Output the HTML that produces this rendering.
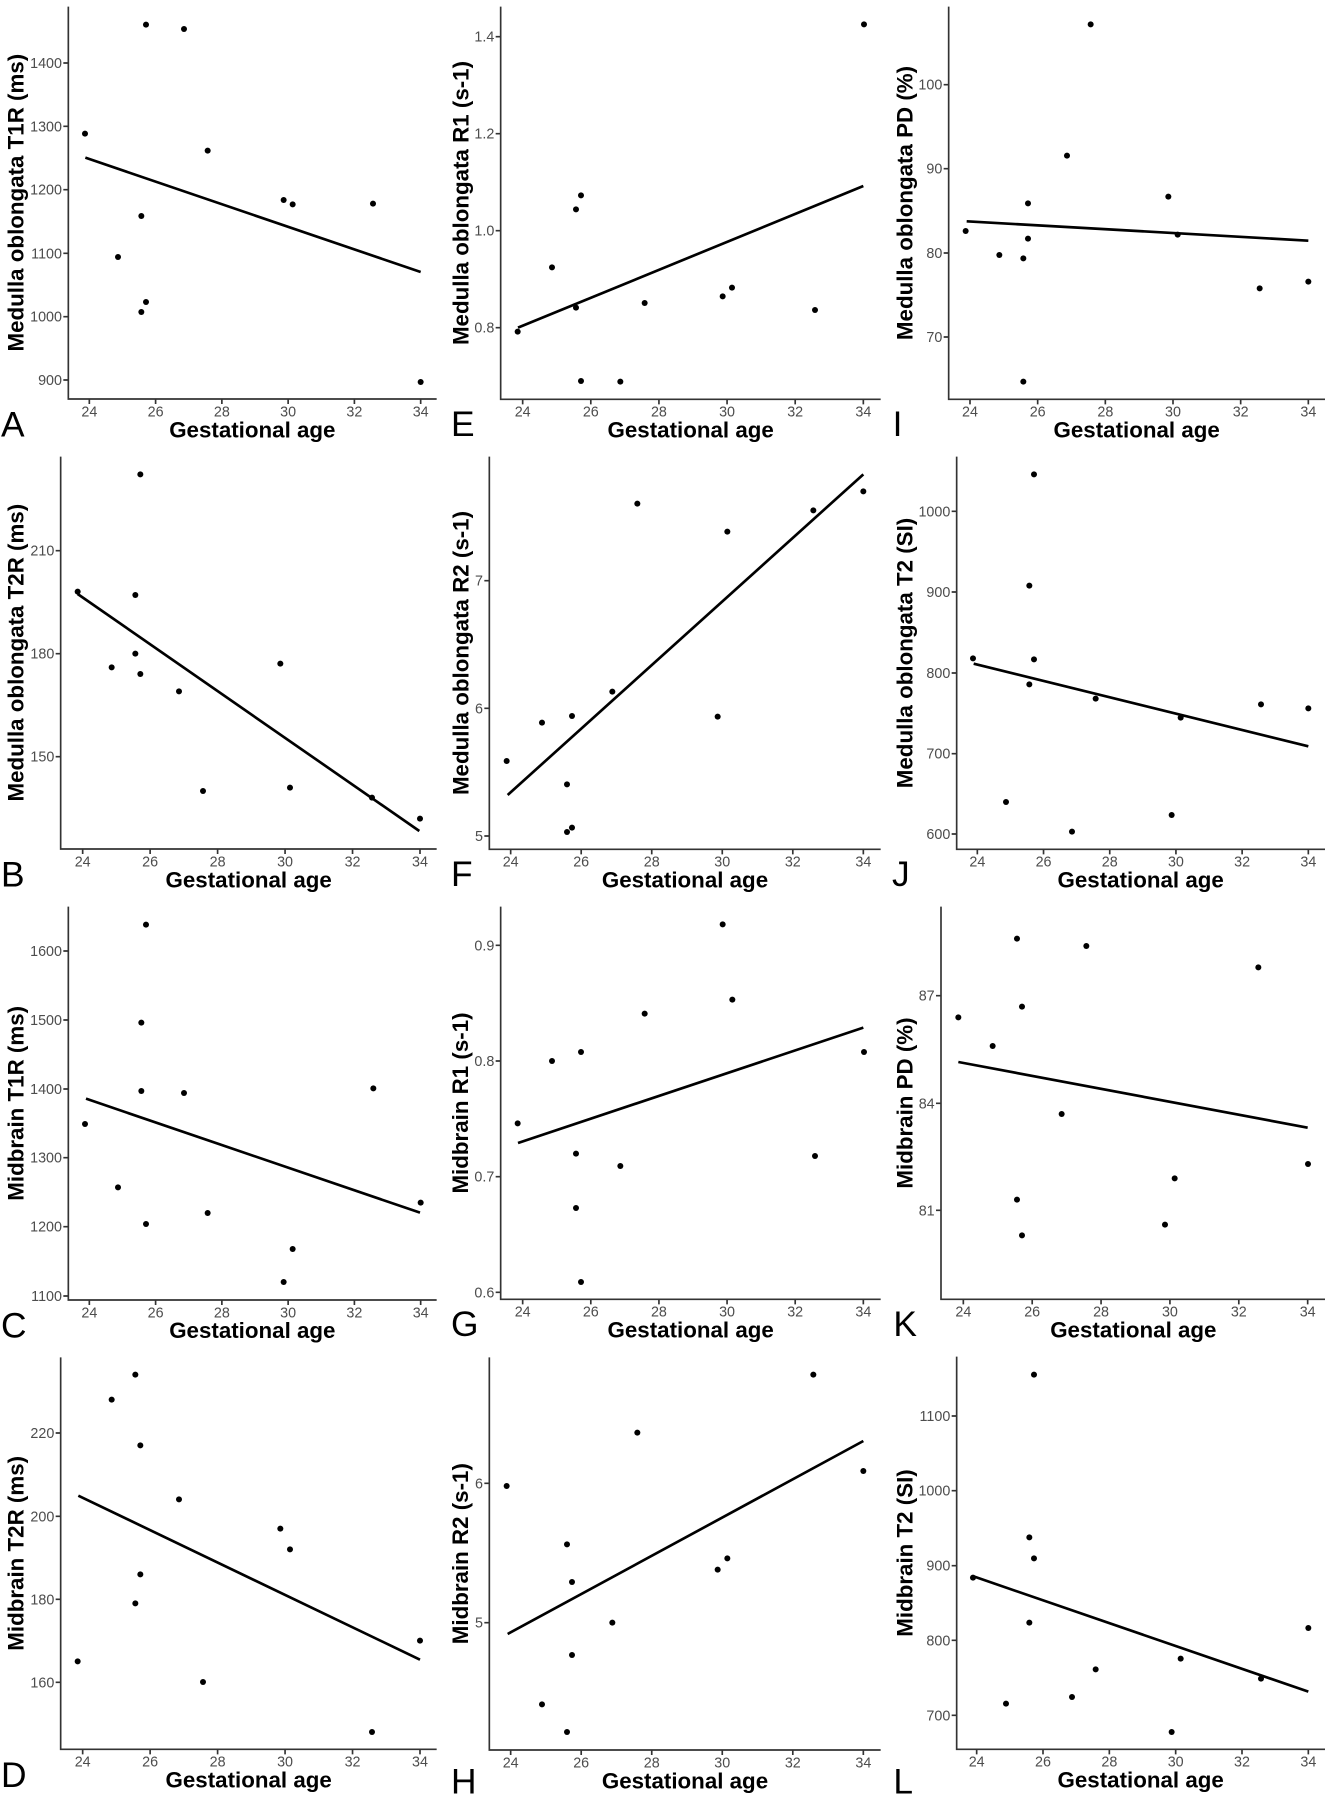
<!DOCTYPE html>
<html><head><meta charset="utf-8"><style>
html,body{margin:0;padding:0;background:#fff}
svg{display:block}
.ax{stroke:#333;stroke-width:5;fill:none}
.tk{fill:#4d4d4d;font-family:"Liberation Sans",Arial,sans-serif;font-size:43px}
.xt{text-anchor:middle}
.yt{text-anchor:end}
.tt{fill:#000;font-family:"Liberation Sans",Arial,sans-serif;font-size:67px;font-weight:bold;text-anchor:middle}
.lt{fill:#000;font-family:"Liberation Sans",Arial,sans-serif;font-size:106px}
.ln{stroke:#000;stroke-width:8;fill:none}
circle{fill:#000;r:9px}
</style></head><body>
<svg width="1329" height="1800" viewBox="0 0 1329 1800" xmlns="http://www.w3.org/2000/svg">
<rect width="1329" height="1800" fill="#fff"/>

<!-- A -->
<g transform="translate(0,0) scale(0.333333)">
<path class="ax" d="M205,20V1197H1310"/>
<path class="ax" d="M190,189H205M190,379H205M190,569H205M190,760H205M190,950H205M190,1140H205M268,1197V1212M466.8,1197V1212M665.6,1197V1212M864.4,1197V1212M1063.2,1197V1212M1262,1197V1212"/>
<text class="tk yt" x="186" y="204">1400</text><text class="tk yt" x="186" y="394">1300</text><text class="tk yt" x="186" y="584">1200</text><text class="tk yt" x="186" y="775">1100</text><text class="tk yt" x="186" y="965">1000</text><text class="tk yt" x="186" y="1155">900</text>
<text class="tk xt" x="268" y="1249">24</text><text class="tk xt" x="466.8" y="1249">26</text><text class="tk xt" x="665.6" y="1249">28</text><text class="tk xt" x="864.4" y="1249">30</text><text class="tk xt" x="1063.2" y="1249">32</text><text class="tk xt" x="1262" y="1249">34</text>
<line class="ln" x1="256" y1="473" x2="1262" y2="816"/>
<circle cx="255" cy="401" r="9"/><circle cx="438" cy="74" r="9"/><circle cx="552" cy="87" r="9"/><circle cx="623" cy="452" r="9"/><circle cx="354" cy="771" r="9"/><circle cx="424" cy="648" r="9"/><circle cx="424" cy="936" r="9"/><circle cx="438" cy="906" r="9"/><circle cx="851" cy="600" r="9"/><circle cx="878" cy="613" r="9"/><circle cx="1119" cy="611" r="9"/><circle cx="1262" cy="1146" r="9"/>
<text class="tt" x="757" y="1312">Gestational age</text>
<text class="tt" transform="translate(71,608) rotate(-90)">Medulla oblongata T1R (ms)</text>
<text class="lt" x="3" y="1310">A</text>
</g>

<!-- E -->
<g transform="translate(440,0) scale(0.333333)">
<path class="ax" d="M182,20V1198H1322"/>
<path class="ax" d="M167,110H182M167,401H182M167,692H182M167,983H182M248,1198V1213M452.4,1198V1213M656.8,1198V1213M861.2,1198V1213M1065.6,1198V1213M1270,1198V1213"/>
<text class="tk yt" x="163" y="125">1.4</text><text class="tk yt" x="163" y="416">1.2</text><text class="tk yt" x="163" y="707">1.0</text><text class="tk yt" x="163" y="998">0.8</text>
<text class="tk xt" x="248" y="1250">24</text><text class="tk xt" x="452.4" y="1250">26</text><text class="tk xt" x="656.8" y="1250">28</text><text class="tk xt" x="861.2" y="1250">30</text><text class="tk xt" x="1065.6" y="1250">32</text><text class="tk xt" x="1270" y="1250">34</text>
<line class="ln" x1="234" y1="983" x2="1270" y2="558"/>
<circle cx="233" cy="995" r="9"/><circle cx="336" cy="802" r="9"/><circle cx="408" cy="628" r="9"/><circle cx="423" cy="586" r="9"/><circle cx="408" cy="923" r="9"/><circle cx="423" cy="1143" r="9"/><circle cx="541" cy="1145" r="9"/><circle cx="614" cy="909" r="9"/><circle cx="848" cy="889" r="9"/><circle cx="876" cy="863" r="9"/><circle cx="1125" cy="930" r="9"/><circle cx="1272" cy="73" r="9"/>
<text class="tt" x="752" y="1313">Gestational age</text>
<text class="tt" transform="translate(86,609) rotate(-90)">Medulla oblongata R1 (s-1)</text>
<text class="lt" x="33" y="1308">E</text>
</g>

<!-- I -->
<g transform="translate(880,0) scale(0.333333)">
<path class="ax" d="M206,20V1198H1335"/>
<path class="ax" d="M191,254H206M191,506H206M191,759H206M191,1011H206M270,1198V1213M473,1198V1213M676,1198V1213M879,1198V1213M1082,1198V1213M1285,1198V1213"/>
<text class="tk yt" x="187" y="269">100</text><text class="tk yt" x="187" y="521">90</text><text class="tk yt" x="187" y="774">80</text><text class="tk yt" x="187" y="1026">70</text>
<text class="tk xt" x="270" y="1250">24</text><text class="tk xt" x="473" y="1250">26</text><text class="tk xt" x="676" y="1250">28</text><text class="tk xt" x="879" y="1250">30</text><text class="tk xt" x="1082" y="1250">32</text><text class="tk xt" x="1285" y="1250">34</text>
<line class="ln" x1="260" y1="664" x2="1285" y2="722"/>
<circle cx="257" cy="693" r="9"/><circle cx="358" cy="765" r="9"/><circle cx="430" cy="775" r="9"/><circle cx="444" cy="610" r="9"/><circle cx="444" cy="716" r="9"/><circle cx="430" cy="1145" r="9"/><circle cx="561" cy="467" r="9"/><circle cx="632" cy="73" r="9"/><circle cx="865" cy="590" r="9"/><circle cx="893" cy="704" r="9"/><circle cx="1139" cy="865" r="9"/><circle cx="1285" cy="845" r="9"/>
<text class="tt" x="770" y="1313">Gestational age</text>
<text class="tt" transform="translate(98,609) rotate(-90)">Medulla oblongata PD (%)</text>
<text class="lt" x="38" y="1308">I</text>
</g>

<!-- B -->
<g transform="translate(0,450) scale(0.333333)">
<path class="ax" d="M182,20V1197H1310"/>
<path class="ax" d="M167,302H182M167,611H182M167,920H182M248,1197V1212M450.4,1197V1212M652.8,1197V1212M855.2,1197V1212M1057.6,1197V1212M1260,1197V1212"/>
<text class="tk yt" x="163" y="317">210</text><text class="tk yt" x="163" y="626">180</text><text class="tk yt" x="163" y="935">150</text>
<text class="tk xt" x="248" y="1249">24</text><text class="tk xt" x="450.4" y="1249">26</text><text class="tk xt" x="652.8" y="1249">28</text><text class="tk xt" x="855.2" y="1249">30</text><text class="tk xt" x="1057.6" y="1249">32</text><text class="tk xt" x="1260" y="1249">34</text>
<line class="ln" x1="233" y1="432" x2="1258" y2="1143"/>
<circle cx="233" cy="425" r="9"/><circle cx="335" cy="652" r="9"/><circle cx="406" cy="435" r="9"/><circle cx="406" cy="611" r="9"/><circle cx="421" cy="672" r="9"/><circle cx="421" cy="73" r="9"/><circle cx="537" cy="724" r="9"/><circle cx="609" cy="1023" r="9"/><circle cx="841" cy="641" r="9"/><circle cx="870" cy="1013" r="9"/><circle cx="1116" cy="1043" r="9"/><circle cx="1260" cy="1106" r="9"/>
<text class="tt" x="746" y="1312">Gestational age</text>
<text class="tt" transform="translate(71,608) rotate(-90)">Medulla oblongata T2R (ms)</text>
<text class="lt" x="3" y="1310">B</text>
</g>

<!-- F -->
<g transform="translate(440,450) scale(0.333333)">
<path class="ax" d="M148,20V1198H1322"/>
<path class="ax" d="M133,392H148M133,775H148M133,1158H148M212,1198V1213M423.6,1198V1213M635.2,1198V1213M846.8,1198V1213M1058.4,1198V1213M1270,1198V1213"/>
<text class="tk yt" x="129" y="407">7</text><text class="tk yt" x="129" y="790">6</text><text class="tk yt" x="129" y="1173">5</text>
<text class="tk xt" x="212" y="1250">24</text><text class="tk xt" x="423.6" y="1250">26</text><text class="tk xt" x="635.2" y="1250">28</text><text class="tk xt" x="846.8" y="1250">30</text><text class="tk xt" x="1058.4" y="1250">32</text><text class="tk xt" x="1270" y="1250">34</text>
<line class="ln" x1="203" y1="1035" x2="1270" y2="73"/>
<circle cx="200" cy="933" r="9"/><circle cx="306" cy="818" r="9"/><circle cx="381" cy="1003" r="9"/><circle cx="381" cy="1146" r="9"/><circle cx="396" cy="1133" r="9"/><circle cx="396" cy="798" r="9"/><circle cx="517" cy="725" r="9"/><circle cx="592" cy="161" r="9"/><circle cx="833" cy="800" r="9"/><circle cx="862" cy="245" r="9"/><circle cx="1120" cy="181" r="9"/><circle cx="1270" cy="124" r="9"/>
<text class="tt" x="735" y="1313">Gestational age</text>
<text class="tt" transform="translate(86,609) rotate(-90)">Medulla oblongata R2 (s-1)</text>
<text class="lt" x="33" y="1308">F</text>
</g>

<!-- J -->
<g transform="translate(880,450) scale(0.333333)">
<path class="ax" d="M230,20V1198H1335"/>
<path class="ax" d="M215,184H230M215,426H230M215,669H230M215,911H230M215,1152H230M292,1198V1213M490.6,1198V1213M689.2,1198V1213M887.8,1198V1213M1086.4,1198V1213M1285,1198V1213"/>
<text class="tk yt" x="211" y="199">1000</text><text class="tk yt" x="211" y="441">900</text><text class="tk yt" x="211" y="684">800</text><text class="tk yt" x="211" y="926">700</text><text class="tk yt" x="211" y="1167">600</text>
<text class="tk xt" x="292" y="1250">24</text><text class="tk xt" x="490.6" y="1250">26</text><text class="tk xt" x="689.2" y="1250">28</text><text class="tk xt" x="887.8" y="1250">30</text><text class="tk xt" x="1086.4" y="1250">32</text><text class="tk xt" x="1285" y="1250">34</text>
<line class="ln" x1="281" y1="641" x2="1285" y2="889"/>
<circle cx="279" cy="625" r="9"/><circle cx="378" cy="1056" r="9"/><circle cx="448" cy="407" r="9"/><circle cx="448" cy="703" r="9"/><circle cx="462" cy="73" r="9"/><circle cx="462" cy="628" r="9"/><circle cx="576" cy="1145" r="9"/><circle cx="647" cy="746" r="9"/><circle cx="875" cy="1095" r="9"/><circle cx="902" cy="803" r="9"/><circle cx="1143" cy="763" r="9"/><circle cx="1285" cy="775" r="9"/>
<text class="tt" x="782" y="1313">Gestational age</text>
<text class="tt" transform="translate(98,609) rotate(-90)">Medulla oblongata T2 (SI)</text>
<text class="lt" x="36" y="1308">J</text>
</g>

<!-- C -->
<g transform="translate(0,900) scale(0.333333)">
<path class="ax" d="M205,20V1200H1310"/>
<path class="ax" d="M190,153H205M190,360H205M190,567H205M190,773H205M190,980H205M190,1188H205M268,1200V1215M466.8,1200V1215M665.6,1200V1215M864.4,1200V1215M1063.2,1200V1215M1262,1200V1215"/>
<text class="tk yt" x="186" y="168">1600</text><text class="tk yt" x="186" y="375">1500</text><text class="tk yt" x="186" y="582">1400</text><text class="tk yt" x="186" y="788">1300</text><text class="tk yt" x="186" y="995">1200</text><text class="tk yt" x="186" y="1203">1100</text>
<text class="tk xt" x="268" y="1252">24</text><text class="tk xt" x="466.8" y="1252">26</text><text class="tk xt" x="665.6" y="1252">28</text><text class="tk xt" x="864.4" y="1252">30</text><text class="tk xt" x="1063.2" y="1252">32</text><text class="tk xt" x="1262" y="1252">34</text>
<line class="ln" x1="258" y1="596" x2="1260" y2="938"/>
<circle cx="255" cy="672" r="9"/><circle cx="354" cy="862" r="9"/><circle cx="424" cy="368" r="9"/><circle cx="424" cy="573" r="9"/><circle cx="438" cy="74" r="9"/><circle cx="438" cy="972" r="9"/><circle cx="552" cy="579" r="9"/><circle cx="623" cy="939" r="9"/><circle cx="851" cy="1146" r="9"/><circle cx="878" cy="1047" r="9"/><circle cx="1120" cy="565" r="9"/><circle cx="1262" cy="908" r="9"/>
<text class="tt" x="757" y="1314">Gestational age</text>
<text class="tt" transform="translate(71,610) rotate(-90)">Midbrain T1R (ms)</text>
<text class="lt" x="3" y="1312">C</text>
</g>

<!-- G -->
<g transform="translate(440,900) scale(0.333333)">
<path class="ax" d="M182,20V1198H1322"/>
<path class="ax" d="M167,136H182M167,483H182M167,830H182M167,1177H182M248,1198V1213M452.4,1198V1213M656.8,1198V1213M861.2,1198V1213M1065.6,1198V1213M1270,1198V1213"/>
<text class="tk yt" x="163" y="151">0.9</text><text class="tk yt" x="163" y="498">0.8</text><text class="tk yt" x="163" y="845">0.7</text><text class="tk yt" x="163" y="1192">0.6</text>
<text class="tk xt" x="248" y="1250">24</text><text class="tk xt" x="452.4" y="1250">26</text><text class="tk xt" x="656.8" y="1250">28</text><text class="tk xt" x="861.2" y="1250">30</text><text class="tk xt" x="1065.6" y="1250">32</text><text class="tk xt" x="1270" y="1250">34</text>
<line class="ln" x1="234" y1="729" x2="1270" y2="383"/>
<circle cx="233" cy="670" r="9"/><circle cx="336" cy="483" r="9"/><circle cx="408" cy="761" r="9"/><circle cx="408" cy="924" r="9"/><circle cx="423" cy="456" r="9"/><circle cx="423" cy="1146" r="9"/><circle cx="541" cy="798" r="9"/><circle cx="614" cy="341" r="9"/><circle cx="848" cy="73" r="9"/><circle cx="877" cy="299" r="9"/><circle cx="1125" cy="768" r="9"/><circle cx="1272" cy="456" r="9"/>
<text class="tt" x="752" y="1313">Gestational age</text>
<text class="tt" transform="translate(84,609) rotate(-90)">Midbrain R1 (s-1)</text>
<text class="lt" x="33" y="1308">G</text>
</g>

<!-- K -->
<g transform="translate(880,900) scale(0.333333)">
<path class="ax" d="M183,20V1198H1335"/>
<path class="ax" d="M168,287H183M168,610H183M168,931H183M250,1198V1213M456.6,1198V1213M663.2,1198V1213M869.8,1198V1213M1076.4,1198V1213M1283,1198V1213"/>
<text class="tk yt" x="164" y="302">87</text><text class="tk yt" x="164" y="625">84</text><text class="tk yt" x="164" y="946">81</text>
<text class="tk xt" x="250" y="1250">24</text><text class="tk xt" x="456.6" y="1250">26</text><text class="tk xt" x="663.2" y="1250">28</text><text class="tk xt" x="869.8" y="1250">30</text><text class="tk xt" x="1076.4" y="1250">32</text><text class="tk xt" x="1283" y="1250">34</text>
<line class="ln" x1="235" y1="486" x2="1283" y2="683"/>
<circle cx="235" cy="352" r="9"/><circle cx="338" cy="438" r="9"/><circle cx="411" cy="116" r="9"/><circle cx="411" cy="899" r="9"/><circle cx="426" cy="320" r="9"/><circle cx="426" cy="1006" r="9"/><circle cx="545" cy="642" r="9"/><circle cx="619" cy="138" r="9"/><circle cx="855" cy="974" r="9"/><circle cx="884" cy="835" r="9"/><circle cx="1135" cy="202" r="9"/><circle cx="1284" cy="792" r="9"/>
<text class="tt" x="760" y="1313">Gestational age</text>
<text class="tt" transform="translate(98,609) rotate(-90)">Midbrain PD (%)</text>
<text class="lt" x="40" y="1308">K</text>
</g>

<!-- D -->
<g transform="translate(0,1340) scale(0.333333)">
<path class="ax" d="M182,52V1228H1310"/>
<path class="ax" d="M167,279H182M167,529H182M167,778H182M167,1027H182M248,1228V1243M450.4,1228V1243M652.8,1228V1243M855.2,1228V1243M1057.6,1228V1243M1260,1228V1243"/>
<text class="tk yt" x="163" y="294">220</text><text class="tk yt" x="163" y="544">200</text><text class="tk yt" x="163" y="793">180</text><text class="tk yt" x="163" y="1042">160</text>
<text class="tk xt" x="248" y="1280">24</text><text class="tk xt" x="450.4" y="1280">26</text><text class="tk xt" x="652.8" y="1280">28</text><text class="tk xt" x="855.2" y="1280">30</text><text class="tk xt" x="1057.6" y="1280">32</text><text class="tk xt" x="1260" y="1280">34</text>
<line class="ln" x1="235" y1="467" x2="1260" y2="959"/>
<circle cx="233" cy="964" r="9"/><circle cx="335" cy="179" r="9"/><circle cx="406" cy="104" r="9"/><circle cx="406" cy="790" r="9"/><circle cx="421" cy="316" r="9"/><circle cx="421" cy="703" r="9"/><circle cx="537" cy="478" r="9"/><circle cx="609" cy="1026" r="9"/><circle cx="841" cy="566" r="9"/><circle cx="870" cy="628" r="9"/><circle cx="1116" cy="1176" r="9"/><circle cx="1260" cy="902" r="9"/>
<text class="tt" x="746" y="1343">Gestational age</text>
<text class="tt" transform="translate(71,640) rotate(-90)">Midbrain T2R (ms)</text>
<text class="lt" x="3" y="1341">D</text>
</g>

<!-- H -->
<g transform="translate(440,1340) scale(0.333333)">
<path class="ax" d="M148,52V1230H1322"/>
<path class="ax" d="M133,430H148M133,848H148M212,1230V1245M423.6,1230V1245M635.2,1230V1245M846.8,1230V1245M1058.4,1230V1245M1270,1230V1245"/>
<text class="tk yt" x="129" y="445">6</text><text class="tk yt" x="129" y="863">5</text>
<text class="tk xt" x="212" y="1282">24</text><text class="tk xt" x="423.6" y="1282">26</text><text class="tk xt" x="635.2" y="1282">28</text><text class="tk xt" x="846.8" y="1282">30</text><text class="tk xt" x="1058.4" y="1282">32</text><text class="tk xt" x="1270" y="1282">34</text>
<line class="ln" x1="203" y1="882" x2="1270" y2="303"/>
<circle cx="200" cy="438" r="9"/><circle cx="306" cy="1093" r="9"/><circle cx="381" cy="613" r="9"/><circle cx="381" cy="1176" r="9"/><circle cx="396" cy="726" r="9"/><circle cx="396" cy="945" r="9"/><circle cx="517" cy="848" r="9"/><circle cx="592" cy="278" r="9"/><circle cx="833" cy="689" r="9"/><circle cx="862" cy="655" r="9"/><circle cx="1120" cy="104" r="9"/><circle cx="1270" cy="393" r="9"/>
<text class="tt" x="735" y="1345">Gestational age</text>
<text class="tt" transform="translate(84,641) rotate(-90)">Midbrain R2 (s-1)</text>
<text class="lt" x="33" y="1360">H</text>
</g>

<!-- L -->
<g transform="translate(880,1340) scale(0.333333)">
<path class="ax" d="M230,50V1228H1335"/>
<path class="ax" d="M215,228H230M215,452H230M215,677H230M215,901H230M215,1126H230M290,1228V1243M489,1228V1243M688,1228V1243M887,1228V1243M1086,1228V1243M1285,1228V1243"/>
<text class="tk yt" x="211" y="243">1100</text><text class="tk yt" x="211" y="467">1000</text><text class="tk yt" x="211" y="692">900</text><text class="tk yt" x="211" y="916">800</text><text class="tk yt" x="211" y="1141">700</text>
<text class="tk xt" x="290" y="1280">24</text><text class="tk xt" x="489" y="1280">26</text><text class="tk xt" x="688" y="1280">28</text><text class="tk xt" x="887" y="1280">30</text><text class="tk xt" x="1086" y="1280">32</text><text class="tk xt" x="1285" y="1280">34</text>
<line class="ln" x1="283" y1="710" x2="1285" y2="1055"/>
<circle cx="462" cy="104" r="9"/><circle cx="448" cy="592" r="9"/><circle cx="462" cy="655" r="9"/><circle cx="279" cy="713" r="9"/><circle cx="448" cy="848" r="9"/><circle cx="378" cy="1091" r="9"/><circle cx="576" cy="1071" r="9"/><circle cx="647" cy="988" r="9"/><circle cx="875" cy="1176" r="9"/><circle cx="902" cy="956" r="9"/><circle cx="1143" cy="1016" r="9"/><circle cx="1285" cy="864" r="9"/>
<text class="tt" x="782" y="1343">Gestational age</text>
<text class="tt" transform="translate(98,639) rotate(-90)">Midbrain T2 (SI)</text>
<text class="lt" x="40" y="1360">L</text>
</g>
</svg>
</body></html>
